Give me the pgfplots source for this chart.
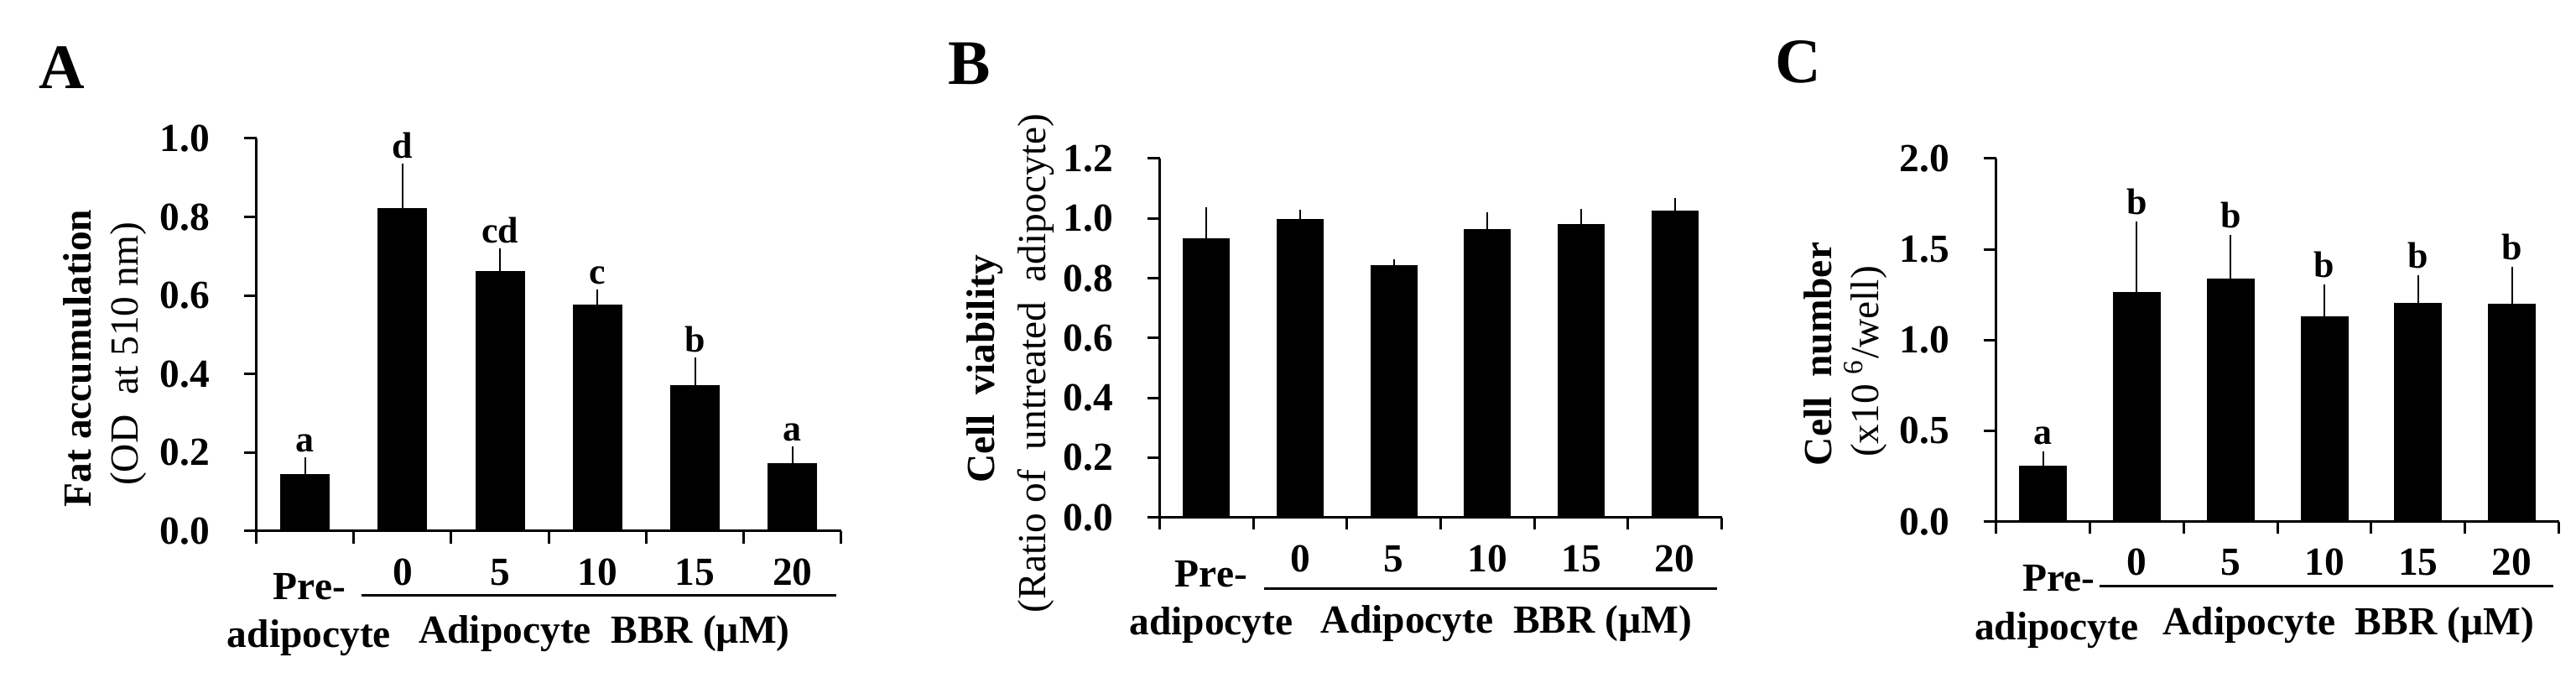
\documentclass[border=0pt]{standalone}
\usepackage{fontspec}
\setmainfont{Liberation Serif}
\usepackage{pgfplots}
\usepackage{pgfplotstable}
\pgfplotsset{compat=1.18}

\pgfplotstableread{
x y e
0 0.145 0.036
1 0.821 0.108
2 0.662 0.050
3 0.576 0.032
4 0.371 0.064
5 0.171 0.037
}\dataA
\pgfplotstableread{
x y e
0 0.932 0.096
1 0.997 0.023
2 0.841 0.012
3 0.962 0.048
4 0.980 0.041
5 1.026 0.031
}\dataB
\pgfplotstableread{
x y e
0 0.307 0.064
1 1.262 0.375
2 1.335 0.230
3 1.129 0.163
4 1.204 0.138
5 1.196 0.193
}\dataC

\newcommand{\tickfont}{\fontsize{13.5}{13.5}\selectfont\bfseries}
\newcommand{\catfont}{\fontsize{13.5}{13.5}\selectfont\bfseries}
\newcommand{\labfont}{\fontsize{13.5}{13.5}\selectfont}
\newcommand{\panelfont}{\fontsize{21.5}{21.5}\selectfont\bfseries}
\newcommand{\letfont}{\fontsize{12.5}{12.5}\selectfont\bfseries}

\pgfplotsset{
  mybars/.style={
    scale only axis, anchor=south west,
    xmin=-0.5, xmax=5.5, ymin=0,
    axis x line*=bottom, axis y line*=left,
    axis line style={line width=0.3mm, black},
    every tick/.style={line width=0.3mm, black},
    tick align=outside, major tick length=1.45mm,
    xtick={-0.5,0.5,1.5,2.5,3.5,4.5,5.5}, xticklabels={},
    y tick label style={font=\tickfont, inner sep=0pt, xshift=-4.05mm,
      /pgf/number format/fixed, /pgf/number format/fixed zerofill, /pgf/number format/precision=1},
    /pgf/number format/assume math mode=true,
    ybar, clip=false,
  },
  bstyle/.style={fill=black, draw=black, line width=0pt,
    error bars/.cd, y dir=plus, y explicit,
    error bar style={line width=0.2mm, black},
    error mark options={line width=0.2mm, mark size=0.35mm, black}},
}

\begin{document}
\begin{tikzpicture}
\path[use as bounding box] (0,0) rectangle (307.1mm,81.4mm);

% ---------------- Panel A ----------------
\begin{axis}[mybars, name=A, at={(30.55mm,18.1mm)}, width=69.75mm, height=46.8mm,
  ymax=1.0, ytick={0,0.2,0.4,0.6,0.8,1.0}, bar width=5.8mm]
\addplot[bstyle] table[x=x, y=y, y error=e] {\dataA};
\foreach \xx/\yy/\tt in {0/0.181/a, 1/0.929/d, 2/0.712/cd, 3/0.608/c, 4/0.435/b, 5/0.208/a}{
  \edef\temp{\noexpand\node[anchor=base, yshift=1mm, font=\noexpand\letfont] at (axis cs:\xx,\yy) {\tt};}
  \temp
}
\foreach \xx/\tt in {1/0, 2/5, 3/10, 4/15, 5/20}{
  \edef\temp{\noexpand\node[anchor=base, yshift=-6.5mm, font=\noexpand\catfont] at (axis cs:\xx,0) {\tt};}
  \temp
}
\end{axis}
\node[anchor=base, font=\catfont] at ([shift={(6.35mm,-8.2mm)}]A.south west) {Pre-};
\node[anchor=base, font=\catfont] at ([shift={(6.3mm,-13.9mm)}]A.south west) {adipocyte};
\node[anchor=base, font=\catfont] at ([shift={(41.5mm,-13.4mm)}]A.south west) {Adipocyte\ \ BBR (µM)};
\draw[line width=0.3mm] ([shift={(12.55mm,-7.7mm)}]A.south west) -- ([shift={(69.15mm,-7.7mm)}]A.south west);
\node[rotate=90, font=\labfont\bfseries] at (9.25mm,38.7mm) {Fat accumulation};
\node[rotate=90, font=\labfont] at (15.3mm,39.2mm) {(OD\ \ at 510 nm)};
\node[anchor=base, font=\panelfont] at (7.4mm,70.8mm) {A};

% ---------------- Panel B ----------------
\begin{axis}[mybars, name=B, at={(138.25mm,19.73mm)}, width=67.0mm, height=42.77mm,
  ymax=1.2, ytick={0,0.2,0.4,0.6,0.8,1.0,1.2}, bar width=5.5mm]
\addplot[bstyle] table[x=x, y=y, y error=e] {\dataB};
\foreach \xx/\tt in {1/0, 2/5, 3/10, 4/15, 5/20}{
  \edef\temp{\noexpand\node[anchor=base, yshift=-6.45mm, font=\noexpand\catfont] at (axis cs:\xx,0) {\tt};}
  \temp
}
\end{axis}
\node[anchor=base, font=\catfont] at ([shift={(6.15mm,-8.3mm)}]B.south west) {Pre-};
\node[anchor=base, font=\catfont] at ([shift={(6.15mm,-14.0mm)}]B.south west) {adipocyte};
\node[anchor=base, font=\catfont] at ([shift={(41.35mm,-13.8mm)}]B.south west) {Adipocyte\ \ BBR (µM)};
\draw[line width=0.3mm] ([shift={(12.45mm,-8.5mm)}]B.south west) -- ([shift={(66.45mm,-8.5mm)}]B.south west);
\node[rotate=90, font=\labfont\bfseries] at (117.4mm,37.4mm) {Cell\ \ viability};
\node[rotate=90, font=\labfont] at (123.5mm,38.1mm) {(Ratio of\ \ untreated\ \ adipocyte)};
\node[anchor=base, font=\panelfont] at (115.6mm,71.3mm) {B};

% ---------------- Panel C ----------------
\begin{axis}[mybars, name=C, at={(237.97mm,19.23mm)}, width=67.09mm, height=43.27mm,
  ymax=2.0, ytick={0,0.5,1.0,1.5,2.0}, bar width=5.6mm]
\addplot[bstyle] table[x=x, y=y, y error=e] {\dataC};
\foreach \xx/\yy/\tt in {0/0.371/a, 1/1.637/b, 2/1.565/b, 3/1.292/b, 4/1.342/b, 5/1.389/b}{
  \edef\temp{\noexpand\node[anchor=base, yshift=1.2mm, font=\noexpand\letfont] at (axis cs:\xx,\yy) {\tt};}
  \temp
}
\foreach \xx/\tt in {1/0, 2/5, 3/10, 4/15, 5/20}{
  \edef\temp{\noexpand\node[anchor=base, yshift=-6.4mm, font=\noexpand\catfont] at (axis cs:\xx,0) {\tt};}
  \temp
}
\end{axis}
\node[anchor=base, font=\catfont] at ([shift={(7.5mm,-8.3mm)}]C.south west) {Pre-};
\node[anchor=base, font=\catfont] at ([shift={(7.2mm,-14.1mm)}]C.south west) {adipocyte};
\node[anchor=base, font=\catfont] at ([shift={(42.0mm,-13.5mm)}]C.south west) {Adipocyte\ \ BBR (µM)};
\draw[line width=0.3mm] ([shift={(12.33mm,-7.7mm)}]C.south west) -- ([shift={(66.43mm,-7.7mm)}]C.south west);
\node[rotate=90, font=\labfont\bfseries] at (216.7mm,39.2mm) {Cell\ \ number};
\node[rotate=90, font=\labfont] at (222.4mm,38.3mm) {(x10 \textsuperscript{6}/well)};
\node[anchor=base, font=\panelfont] at (214.4mm,71.5mm) {C};
\end{tikzpicture}
\end{document}
